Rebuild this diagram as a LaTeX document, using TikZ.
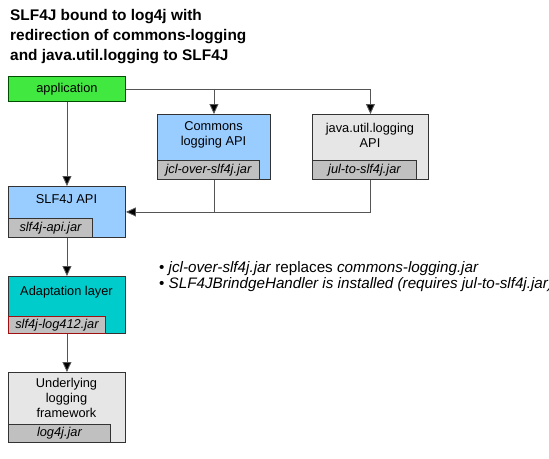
\documentclass[tikz,border=0pt]{standalone}
\usepackage{fontspec}
\setmainfont{Liberation Sans}
\usetikzlibrary{arrows.meta}
\definecolor{appgreen}{HTML}{40E840}
\definecolor{apiblue}{HTML}{99CCFF}
\definecolor{lightgray}{HTML}{E6E6E6}
\definecolor{jargray}{HTML}{C0C0C0}
\definecolor{teal2}{HTML}{00CCCC}
\definecolor{borderc}{HTML}{333333}
\definecolor{linec}{HTML}{555555}
\definecolor{jarred}{HTML}{A01010}
\tikzset{
  box/.style={draw=borderc, line width=0.9pt, anchor=north west, inner sep=0pt},
  jarbox/.style={draw=borderc, line width=0.9pt, fill=jargray, anchor=north west, inner sep=0pt,
     font=\fontsize{12.8}{14}\selectfont\itshape, minimum height=19pt},
  lbl/.style={font=\fontsize{12.8}{15}\selectfont, align=center, inner sep=0pt},
  conn/.style={draw=linec, line width=0.9pt},
  arr/.style={conn, -{Triangle[length=10pt,width=9pt,fill=black]}},
}
\begin{document}
\begin{tikzpicture}[x=1pt,y=-1pt]
\useasboundingbox (0,0) rectangle (549,458);
% title
\node[anchor=north west, align=left, inner sep=0pt, font=\fontsize{15.4}{20}\selectfont\bfseries] (title) at (10,9)
  {SLF4J bound to log4j with\\redirection of commons-logging\\and java.util.logging to SLF4J};
% application
\node[box, fill=appgreen, draw=black!70!green, minimum width=117pt, minimum height=25pt] (app) at (8,76) {};
\node[lbl] (applbl) at (app.center) {application};
% commons logging
\node[box, fill=apiblue, minimum width=113pt, minimum height=65pt] (cl) at (157,114) {};
\node[lbl] (cllbl) at (213.5,135) {Commons\\logging API};
\node[jarbox, minimum width=102pt] (cljar) at (157,160) {jcl-over-slf4j.jar};
% jul
\node[box, fill=lightgray, minimum width=116pt, minimum height=65pt] (jul) at (312,114) {};
\node[lbl] (jullbl) at (370,135) {java.util.logging\\API};
\node[jarbox, minimum width=104pt] (juljar) at (312,160) {jul-to-slf4j.jar};
% SLF4J API
\node[box, fill=apiblue, minimum width=117pt, minimum height=51pt] (api) at (8,186) {};
\node[lbl] (apilbl) at (66.5,199) {SLF4J API};
\node[jarbox, minimum width=84pt] (apijar) at (8,218) {slf4j-api.jar};
% Adaptation
\node[box, fill=teal2, minimum width=117pt, minimum height=57pt] (ad) at (8,276) {};
\node[lbl] (adlbl) at (66.5,292) {Adaptation layer};
\node[jarbox, draw=jarred, minimum width=97pt, minimum height=17pt] (adjar) at (8,316) {slf4j-log412.jar};
% Underlying
\node[box, fill=lightgray, minimum width=117pt, minimum height=70pt] (un) at (8,372) {};
\node[lbl] (unlbl) at (66.5,398) {Underlying\\logging\\framework};
\node[jarbox, minimum width=102pt, minimum height=18pt] (unjar) at (8,424) {log4j.jar};
% connectors
\draw[arr] (app.south) -- (api.north);
\draw[arr] (app.east) -| (jul.north);
\draw[arr] (app.east -| cl.north) -- (cl.north);
\draw[arr] (jul.south) |- (api.east);
\draw[conn] (cl.south) -- (cl.south |- api.east);
\draw[arr] (api.south) -- (ad.north);
\draw[arr] (ad.south) -- (un.north);
% notes
\node[anchor=north west, align=left, inner sep=0pt, font=\fontsize{15.2}{16}\selectfont] (notes) at (159,261)
  {\textbullet\ \textit{jcl-over-slf4j.jar} replaces \textit{commons-logging.jar}\\
   \textbullet\ \textit{SLF4JBrindgeHandler is installed (requires jul-to-slf4j.jar)}};
\end{tikzpicture}
\end{document}
